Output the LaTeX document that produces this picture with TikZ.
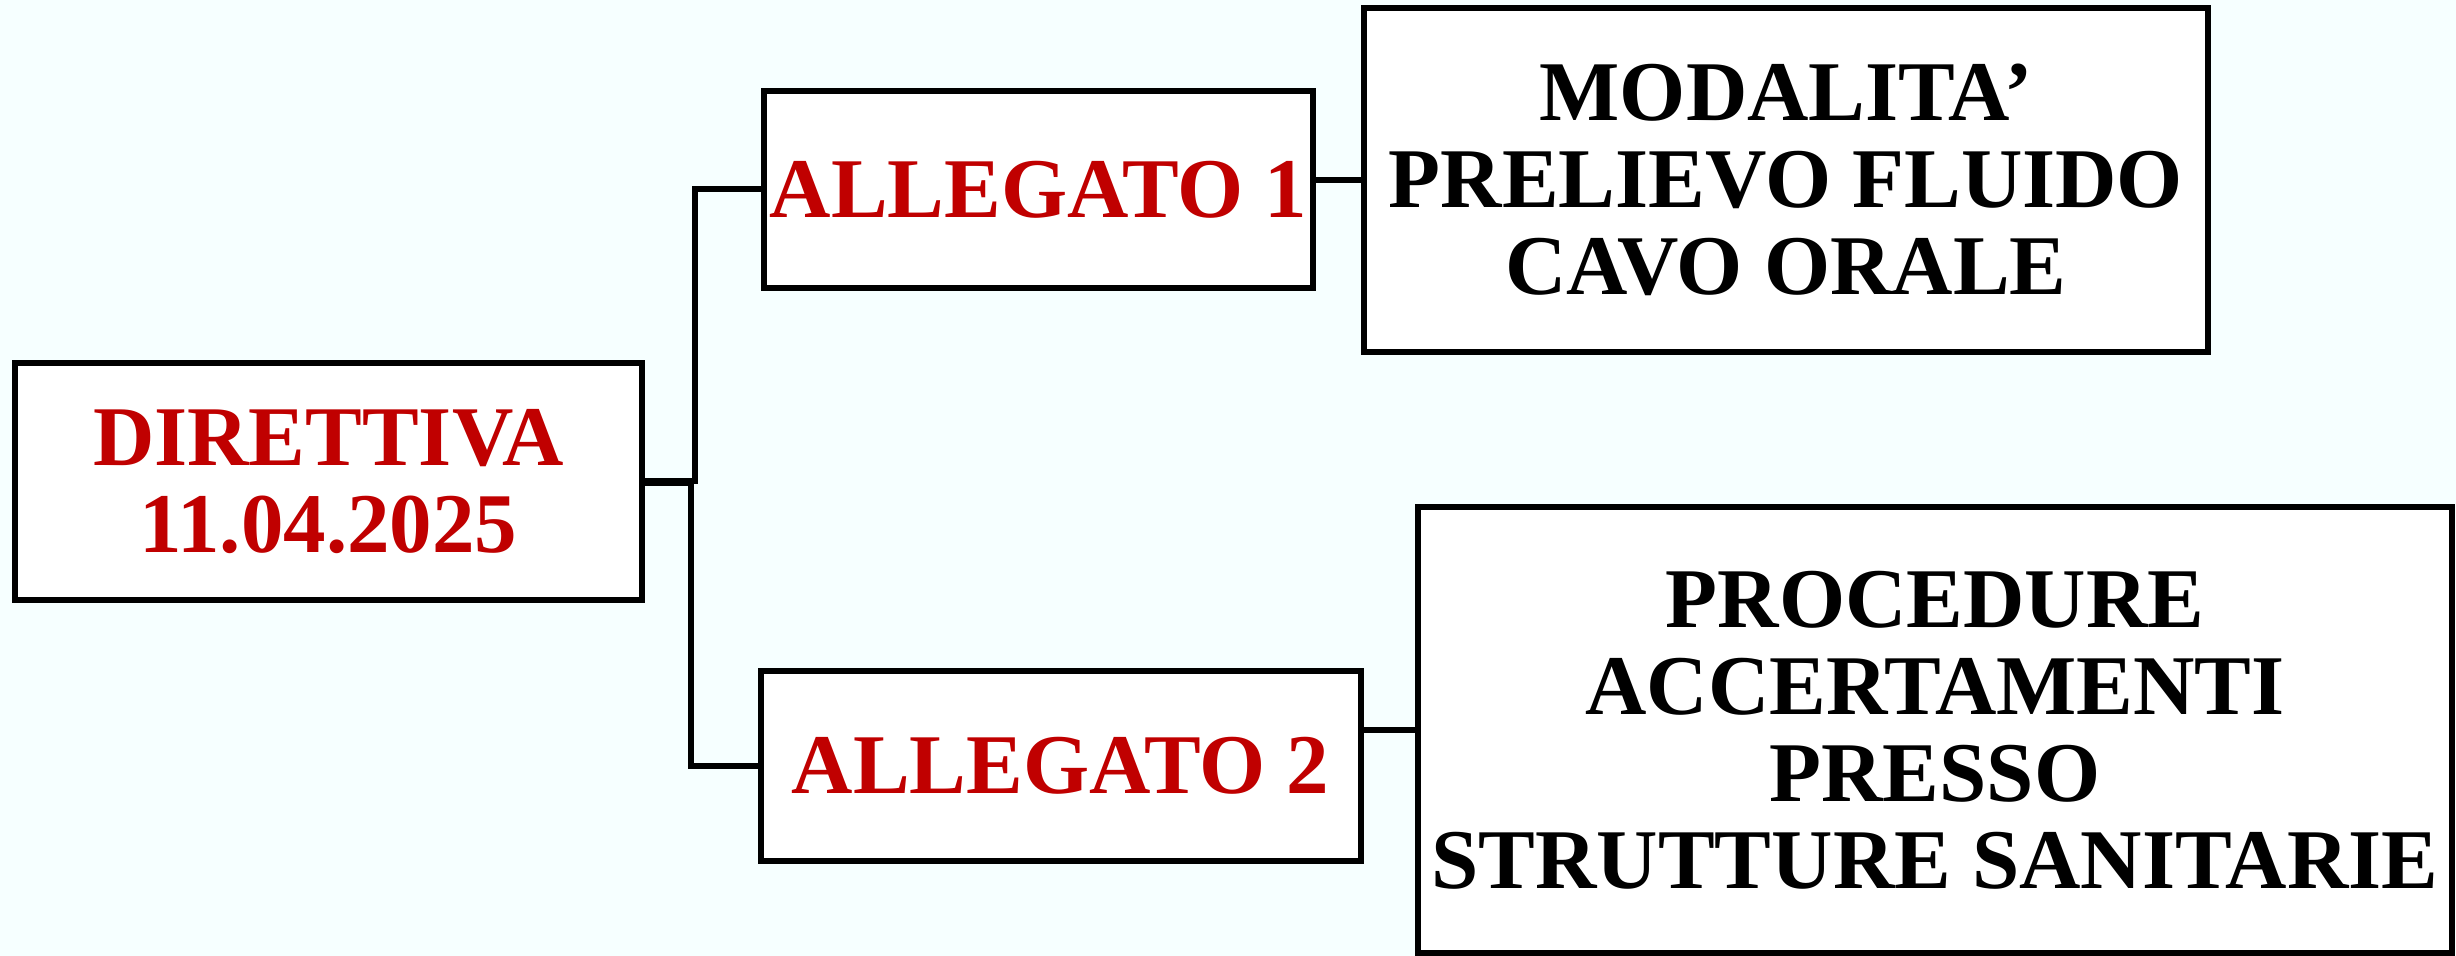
\documentclass[tikz,border=0pt]{standalone}
\usepackage{fontspec}
\setmainfont{Liberation Serif}
\definecolor{bgcol}{HTML}{F6FFFF}
\definecolor{redtxt}{HTML}{C00000}
\begin{document}
\begin{tikzpicture}[x=0.5pt,y=-0.5pt,
  box/.style={draw=black,line width=3pt,fill=white,rectangle,inner sep=0pt,align=center,
    font=\fontsize{42.5}{43.5}\selectfont\bfseries},
  redbox/.style={box,text=redtxt},
  blackbox/.style={box,text=black},
  conn/.style={draw=black,line width=3pt}]
\fill[bgcol] (0,0) rectangle (2456,956);
\useasboundingbox (0,0) rectangle (2456,956);
\node[redbox,minimum width=313.5pt,minimum height=118.5pt] (dir) at (328.5,481.5) {DIRETTIVA\\11.04.2025};
\node[redbox,minimum width=274.5pt,minimum height=98.5pt] (a1) at (1038.5,189.5) {ALLEGATO 1};
\node[blackbox,minimum width=422pt,minimum height=172pt] (mod) at (1786,180) {MODALITA’\\PRELIEVO FLUIDO\\CAVO ORALE};
\node[redbox,minimum width=300pt,minimum height=95pt] (a2) at (1060.5,765.5) {ALLEGATO 2};
\node[blackbox,minimum width=517pt,minimum height=223pt] (proc) at (1935,730) {PROCEDURE\\ACCERTAMENTI\\PRESSO\\STRUTTURE SANITARIE};
\coordinate (j1) at (695,189.5);
\coordinate (j2) at (691,765.5);
\draw[conn] (dir.east) -| (j1) -- (a1.west);
\draw[conn] ([yshift=-1pt]dir.east) -| (j2) -- (a2.west);
\draw[conn] (a1.east |- mod.west) -- (mod.west);
\draw[conn] (a2.east |- proc.west) -- (proc.west);
\end{tikzpicture}
\end{document}
